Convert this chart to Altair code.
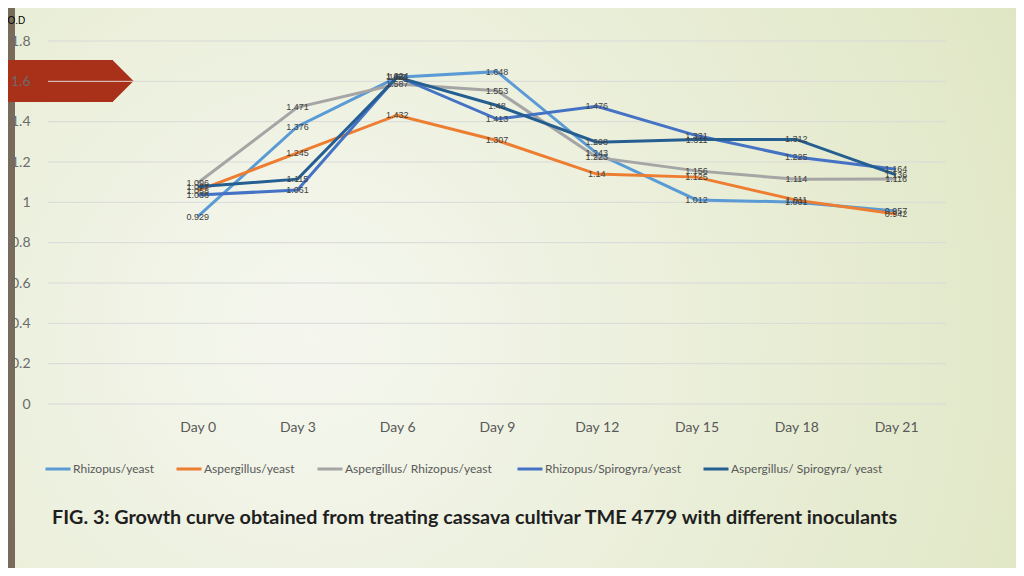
import altair as alt
import pandas as pd

days = [0, 3, 6, 9, 12, 15, 18, 21]
series_names = [
    "Rhizopus/yeast",
    "Aspergillus/yeast",
    "Aspergillus/  Rhizopus/yeast",
    "Rhizopus/Spirogyra/yeast",
    "Aspergillus/  Spirogyra/  yeast",
]
rhizopus_yeast = [0.929, 1.376, 1.620, 1.648, 1.243, 1.012, 1.001, 0.957]
aspergillus_yeast = [1.058, 1.245, 1.432, 1.307, 1.140, 1.125, 1.011, 0.942]
asp_rhiz_yeast = [1.096, 1.471, 1.587, 1.553, 1.223, 1.156, 1.114, 1.116]
rhiz_spiro_yeast = [1.036, 1.061, 1.624, 1.413, 1.476, 1.331, 1.225, 1.164]
asp_spiro_yeast = [1.077, 1.115, 1.621, 1.480, 1.298, 1.311, 1.312, 1.136]
series_colors = ["#5B9BD5", "#ED7D31", "#A5A5A5", "#4472C4", "#255E91"]
y_ticks = [0, 0.2, 0.4, 0.6, 0.8, 1.0, 1.2, 1.4, 1.6, 1.8]
title_text = "FIG. 3: Growth curve obtained from treating cassava cultivar TME 4779 with different inoculants"

all_vals = [rhizopus_yeast, aspergillus_yeast, asp_rhiz_yeast, rhiz_spiro_yeast, asp_spiro_yeast]
rows = []
for name, vals in zip(series_names, all_vals):
    for d, v in zip(days, vals):
        rows.append({"series": name, "day": d, "od": v, "label": f"{v:g}"})
df = pd.DataFrame(rows)
grid_df = pd.DataFrame({"v": y_ticks})

FONT = "Lato"

x_enc = alt.X(
    "day:Q",
    scale=alt.Scale(domain=[-4.5, 22.5], nice=False, zero=False),
    axis=alt.Axis(
        values=days, labelExpr="'Day ' + datum.value", grid=False, ticks=False,
        domain=False, labelFontSize=14, labelColor="#595959", labelPadding=16,
        labelFont=FONT, title=None, zindex=1,
    ),
)
y_scale = alt.Scale(domain=[0, 1.8], nice=False)
y_enc = alt.Y(
    "od:Q",
    scale=y_scale,
    axis=alt.Axis(
        values=y_ticks, format=".1~f", grid=False, ticks=False, zindex=1,
        domain=False, labelFontSize=14, labelColor="#6B6B6B", labelPadding=18,
        labelFont=FONT, title="O.D", titleAngle=0, titleX=-41, titleY=-21,
        titleAlign="left", titleBaseline="middle", titleFontSize=10,
        titleFontWeight="normal", titleColor="#000000", titleFont="Liberation Sans",
    ),
)
color_enc = alt.Color(
    "series:N",
    scale=alt.Scale(domain=series_names, range=series_colors),
    legend=alt.Legend(
        orient="none", legendX=-4, legendY=414, direction="horizontal", title=None,
        symbolType="stroke", symbolSize=625, symbolStrokeWidth=3,
        labelFontSize=12, labelColor="#595959", labelFont=FONT,
        columnPadding=16, labelOffset=1, zindex=1,
    ),
)

dummy = pd.DataFrame({"k": [0]})

bg = alt.Chart(dummy).mark_rect(
    color=alt.RadialGradient(
        gradient="radial", x1=0.3, y1=0.55, r1=0, x2=0.3, y2=0.55, r2=0.8,
        stops=[alt.GradientStop(color="#F5F7EF", offset=0),
               alt.GradientStop(color="#DFE6C3", offset=1)],
    )
).encode(x=alt.value(-40), x2=alt.value(968), y=alt.value(-33), y2=alt.value(527))

bar = alt.Chart(dummy).mark_rect(color="#776B5C").encode(
    x=alt.value(-40), x2=alt.value(-33), y=alt.value(-33), y2=alt.value(527)
)
arrow_body = alt.Chart(dummy).mark_rect(color="#A93119").encode(
    x=alt.value(-40), x2=alt.value(65), y=alt.value(19), y2=alt.value(61)
)
arrow_tip = alt.Chart(dummy).mark_point(
    shape="M-0.5,-1L0.5,0L-0.5,1Z", filled=True, opacity=1, color="#A93119", size=1764
).encode(x=alt.value(75), y=alt.value(40))

grid = alt.Chart(grid_df).mark_rule(color="#D9D9D9", strokeWidth=1).encode(
    y=alt.Y("v:Q", scale=y_scale), x=alt.value(0), x2=alt.value(898)
)

lines = alt.Chart(df).mark_line(strokeWidth=3).encode(
    x=x_enc, y=y_enc, color=color_enc,
    order=alt.Order("day:Q"),
)
labels = alt.Chart(df).mark_text(
    fontSize=9, color="#404040", align="center", baseline="middle", font="Liberation Sans"
).encode(x="day:Q", y="od:Q", text="label:N")

title = alt.Chart(pd.DataFrame({"t": [title_text]})).mark_text(
    fontSize=19.8, fontWeight="bold", color="#1F1F1F", align="left", baseline="middle", font=FONT
).encode(text="t:N", x=alt.value(4), y=alt.value(477))

chart = alt.layer(bg, bar, arrow_body, arrow_tip, grid, lines, labels, title).properties(
    width=898, height=363,
    autosize=alt.AutoSizeParams(type="none"),
    padding={"left": 40, "top": 33, "right": 70, "bottom": 164},
    background="#E7ECD0",
).configure_view(stroke=None)

chart.save("out.html", embed_options={"renderer": "svg", "actions": False})
